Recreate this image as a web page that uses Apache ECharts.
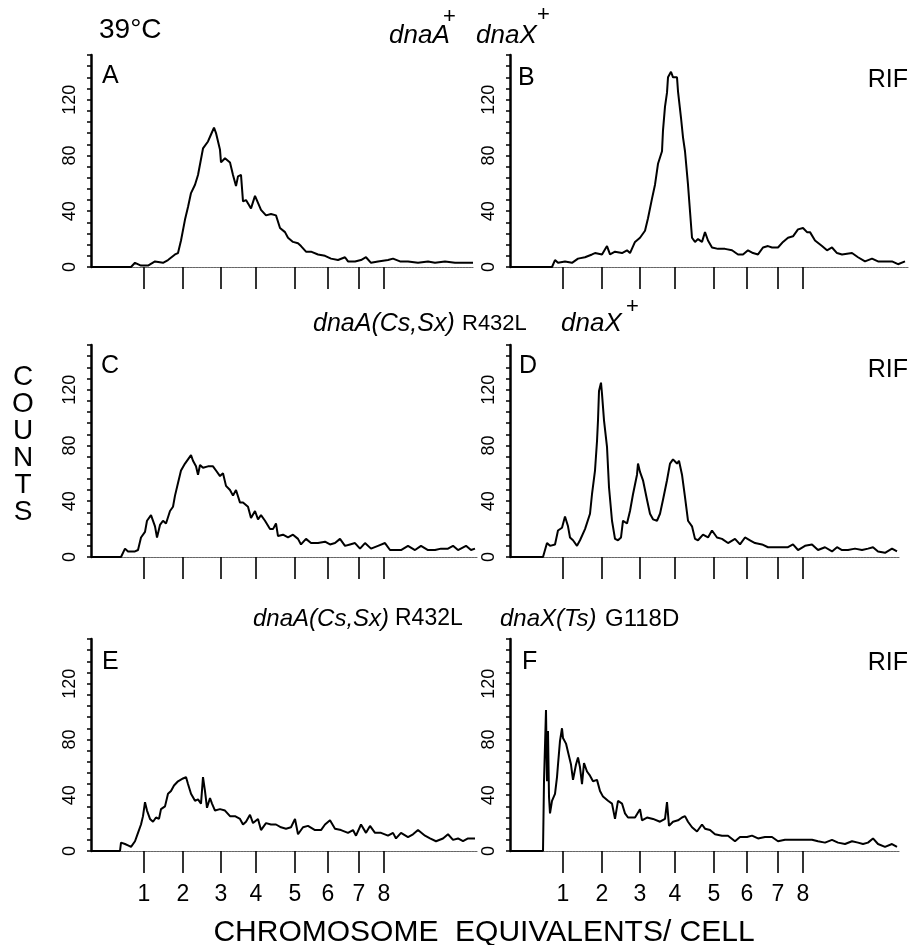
<!DOCTYPE html>
<html><head><meta charset="utf-8">
<script src="https://cdn.jsdelivr.net/npm/echarts@6/dist/echarts.min.js"></script>
<style>html,body{margin:0;padding:0;background:#fff}#c{width:918px;height:945px}</style>
</head><body><div id="c"></div>
<script>
// ---- data (x = fluorescence channel, y = counts) ----
const tickChannels = [53, 92, 130, 165, 204, 237, 268, 293];
const tickLabels = ['1', '2', '3', '4', '5', '6', '7', '8'];
const yTickLabels = [0, 40, 80, 120];
const panelLetters = ['A', 'B', 'C', 'D', 'E', 'F'];

const panelA = [[0,0],[40,0],[44,3],[50,1],[57,1],[64,4],[72,3],[77,5],[84,9],[87,10],[90,19],[94,34],[97,43],[100,53],[104,59],[107,66],[112,85],[117,90],[120,95],[123,100],[125,96],[129,84],[130,75],[134,78],[139,75],[142,66],[145,58],[147,65],[150,66],[152,47],[155,48],[160,42],[164,51],[167,46],[170,41],[175,37],[180,38],[185,37],[189,28],[194,25],[197,21],[202,18],[207,17],[210,15],[215,11],[220,11],[227,9],[234,8],[240,6],[247,5],[254,7],[257,4],[264,4],[270,5],[275,7],[280,3],[287,4],[297,5],[302,6],[309,4],[317,4],[327,3],[337,4],[344,3],[354,4],[364,3],[374,3],[382,3]];

const panelB = [[0,0],[42,0],[45,5],[48,3],[55,4],[62,3],[68,6],[75,7],[82,9],[85,10],[92,9],[97,15],[100,9],[105,11],[112,10],[117,12],[120,10],[125,18],[130,21],[135,26],[138,35],[142,49],[145,59],[148,74],[152,83],[153,98],[155,115],[157,125],[158,136],[161,140],[163,136],[167,136],[168,126],[171,107],[173,93],[175,83],[178,59],[180,40],[182,21],[185,18],[188,20],[192,18],[195,25],[198,19],[202,14],[208,13],[215,13],[222,12],[228,9],[233,9],[238,12],[243,10],[248,9],[253,14],[258,15],[262,14],[268,14],[273,18],[278,21],[283,22],[288,27],[293,28],[297,25],[300,25],[305,19],[312,15],[317,12],[322,14],[327,10],[332,9],[342,10],[348,7],[355,4],[362,6],[368,4],[375,4],[382,4],[388,2],[395,4]];

const panelC = [[0,0],[30,0],[34,6],[37,4],[44,4],[47,5],[50,14],[54,18],[56,26],[60,30],[64,22],[66,14],[69,23],[72,26],[75,24],[79,33],[82,36],[84,44],[87,53],[90,62],[94,67],[97,70],[100,73],[102,69],[105,65],[107,59],[109,66],[112,64],[117,65],[122,65],[125,62],[129,58],[132,60],[135,51],[139,48],[142,44],[145,48],[149,39],[152,39],[157,36],[160,28],[164,33],[167,27],[170,30],[174,26],[179,20],[182,20],[185,24],[187,15],[192,16],[197,14],[202,16],[207,13],[210,9],[215,13],[220,10],[227,10],[234,11],[239,9],[244,10],[249,13],[254,8],[259,9],[264,10],[269,6],[274,10],[280,6],[287,8],[294,10],[299,5],[304,5],[310,5],[317,8],[324,5],[330,8],[337,5],[344,5],[350,6],[357,6],[362,8],[367,5],[375,8],[380,5],[384,6]];

const panelD = [[0,0],[33,0],[35,5],[37,10],[40,8],[45,9],[48,19],[52,21],[55,29],[58,22],[60,14],[63,12],[67,8],[70,12],[75,20],[80,31],[82,45],[85,62],[87,83],[88,98],[89,119],[91,125],[92,117],[94,98],[97,79],[99,50],[102,26],[105,13],[108,12],[111,14],[113,26],[117,24],[120,33],[123,45],[127,59],[128,67],[130,61],[133,55],[137,41],[140,31],[143,27],[147,26],[150,31],[153,41],[157,55],[160,67],[163,70],[167,67],[169,69],[172,59],[175,43],[178,26],[182,22],[185,13],[188,12],[193,16],[198,14],[202,19],[207,14],[212,13],[218,10],[225,13],[230,9],[235,14],[240,12],[245,10],[252,9],[258,7],[265,7],[272,7],[278,7],[283,9],[288,5],[295,8],[302,9],[308,5],[315,7],[322,4],[327,7],[332,5],[338,5],[345,6],[352,5],[358,6],[363,7],[368,4],[375,3],[382,6],[387,4]];

const panelE = [[0,0],[29,0],[30,6],[34,5],[37,4],[40,3],[44,7],[47,13],[50,19],[52,25],[54,35],[56,29],[59,23],[62,21],[65,24],[68,23],[70,30],[74,32],[77,41],[80,43],[83,47],[87,50],[92,52],[95,53],[97,48],[100,41],[104,36],[107,37],[110,34],[112,53],[114,43],[116,31],[119,38],[121,34],[124,29],[129,30],[134,29],[139,25],[144,25],[149,23],[152,19],[155,21],[159,26],[162,20],[167,23],[170,15],[175,20],[180,19],[185,19],[190,17],[195,16],[200,17],[204,23],[207,12],[212,17],[217,18],[224,15],[230,15],[234,19],[239,22],[244,16],[250,15],[257,13],[262,15],[265,11],[270,19],[275,13],[279,18],[284,13],[290,13],[297,11],[302,13],[305,9],[310,13],[317,10],[322,12],[327,15],[334,11],[339,9],[345,7],[352,9],[357,12],[362,8],[367,9],[372,7],[377,9],[384,9]];

const panelF = [[0,0],[33,0],[34,50],[36,101],[37,50],[38,86],[39,39],[40,27],[42,36],[45,41],[47,53],[48,62],[50,79],[52,88],[53,81],[56,77],[58,71],[61,62],[63,51],[66,62],[68,67],[70,60],[72,48],[74,63],[77,57],[80,54],[83,50],[87,51],[90,43],[93,39],[98,36],[102,34],[105,23],[108,36],[112,34],[115,27],[118,24],[125,24],[130,30],[132,22],[137,24],[143,23],[150,21],[155,23],[157,35],[159,18],[163,21],[168,22],[172,24],[175,25],[178,21],[182,17],[187,14],[192,19],[195,16],[200,15],[205,12],[212,11],[218,11],[225,7],[230,10],[237,10],[242,11],[248,9],[255,10],[262,10],[268,7],[275,8],[282,8],[288,8],[295,8],[302,8],[308,7],[315,6],[322,8],[328,6],[335,5],[342,7],[348,6],[353,5],[358,6],[363,9],[368,5],[375,3],[382,5],[387,3]];

const panelData = [panelA, panelB, panelC, panelD, panelE, panelF];

// ---- layout ----
const FONT = '"Liberation Sans", Arial, Helvetica, sans-serif';
const colLeft = [91, 510];
const rowTop = [55, 345, 639];
const plotH = 212;
const panelW = [382, 398, 386, 390, 386, 390];
const yMax = 152;

const grids = [], xAxes = [], yAxes = [], series = [];
for (let i = 0; i < 6; i++) {
  const r = Math.floor(i / 2), c = i % 2;
  grids.push({ left: colLeft[c], top: rowTop[r], width: panelW[i], height: plotH, outerBoundsMode: 'none' });
  xAxes.push({
    type: 'value', gridIndex: i, min: 0, max: panelW[i],
    splitLine: { show: false },
    axisLine: { show: true, lineStyle: { color: '#666', width: 1.2, type: [2, 1] } },
    axisTick: { show: true, customValues: tickChannels, length: 22, lineStyle: { color: '#000', width: 1.6 } },
    axisLabel: {
      show: r === 2, customValues: tickChannels, margin: 32,
      formatter: v => tickLabels[tickChannels.indexOf(v)] || '',
      fontFamily: FONT, fontSize: 23, color: '#000'
    }
  });
  yAxes.push({
    type: 'value', gridIndex: i, min: 0, max: yMax, interval: 8,
    splitLine: { show: false },
    axisLine: { show: true, lineStyle: { color: '#000', width: 2.5 } },
    axisTick: { show: true, length: 4, lineStyle: { color: '#000', width: 1.5 } },
    axisLabel: {
      show: true, rotate: 90, margin: 12,
      formatter: v => yTickLabels.indexOf(v) >= 0 ? String(v) : '',
      fontFamily: FONT, fontSize: 18, color: '#000'
    }
  });
  series.push({
    type: 'line', xAxisIndex: i, yAxisIndex: i, data: panelData[i],
    showSymbol: false, symbol: 'none', lineStyle: { color: '#000', width: 2 }, silent: true
  });
}

function txt(text, x, y, size, align) {
  return { type: 'text', x: x, y: y, silent: true,
    style: { text: text, fill: '#000', font: size + 'px ' + FONT, align: align || 'left', verticalAlign: 'middle' } };
}
function itxt(text, x, y, size) {
  return { type: 'text', x: x, y: y, silent: true,
    style: { text: text, fill: '#000', font: 'italic ' + size + 'px ' + FONT, align: 'left', verticalAlign: 'middle' } };
}

const graphic = [
  txt('39°C', 99, 30, 28),
  itxt('dnaA', 389, 36, 26), txt('+', 443, 17, 22),
  itxt('dnaX', 476, 36, 26), txt('+', 537, 15, 22),
  itxt('dnaA(Cs,Sx)', 313, 324, 25), txt('R432L', 462, 324, 22),
  itxt('dnaX', 561, 324, 26), txt('+', 626, 307, 22),
  itxt('dnaA(Cs,Sx)', 253, 619, 24), txt('R432L', 395, 619, 23),
  itxt('dnaX(Ts)', 500, 619, 24), txt('G118D', 605, 619, 24),
  txt(panelLetters[0], 102, 76, 25), txt(panelLetters[1], 518, 78, 25),
  txt(panelLetters[2], 101, 366, 25), txt(panelLetters[3], 519, 366, 25),
  txt(panelLetters[4], 102, 662, 25), txt(panelLetters[5], 522, 662, 25),
  txt('RIF', 908, 80, 25, 'right'),
  txt('RIF', 908, 370, 25, 'right'),
  txt('RIF', 908, 663, 25, 'right'),
  { type: 'text', x: 23, y: 364, silent: true, style: { text: 'C\nO\nU\nN\nT\nS', fill: '#000', font: '28px ' + FONT, align: 'center', verticalAlign: 'top', lineHeight: 27 } },
  txt('CHROMOSOME  EQUIVALENTS/ CELL', 484, 933, 30, 'center')
];

const chart = echarts.init(document.getElementById('c'), null, { renderer: 'canvas' });
chart.setOption({
  animation: false,
  backgroundColor: '#fff',
  grid: grids, xAxis: xAxes, yAxis: yAxes, series: series,
  graphic: graphic
});
</script></body></html>
